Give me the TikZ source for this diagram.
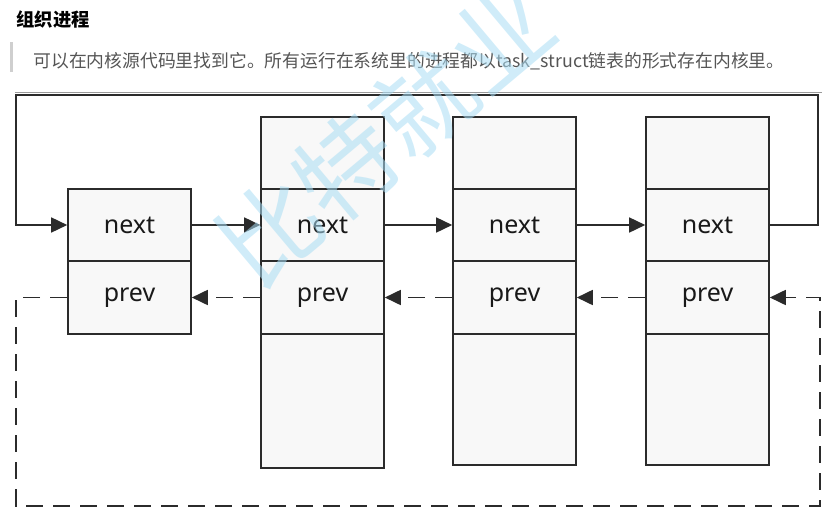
\documentclass[tikz,border=0pt]{standalone}
\usepackage{xcolor}
\usepackage{fontspec}
\usepackage{tikz}
\usetikzlibrary{arrows.meta}
\setmainfont{Noto Sans}
\newfontfamily\cjkfont{Noto Sans CJK SC}
\definecolor{PLLine}{HTML}{2B2B2B}
\definecolor{PLFill}{HTML}{F8F8F8}
\definecolor{PLQuote}{HTML}{CFCFCF}
\definecolor{PLText}{HTML}{555555}
\definecolor{PLRule}{HTML}{9A9A9A}
\definecolor{PLMark}{HTML}{A9DDF4}

\begin{document}
\begin{tikzpicture}[x=1pt,y=-1pt,
  cell/.style={draw=PLLine,fill=PLFill,line width=1.6pt,minimum width=123pt,inner sep=0pt,text=black!90,font=\fontsize{25}{28}\selectfont},
  nextlink/.style={PLLine,line width=1.6pt,-{Triangle[length=16pt,width=15pt]}},
  prevlink/.style={PLLine,line width=1.8pt,dash pattern=on 17pt off 10pt,-{Triangle[length=16pt,width=15pt]}}]
\path[use as bounding box] (0,0) rectangle (835,519);
\node[anchor=west,font=\cjkfont\bfseries\fontsize{18.3}{21}\selectfont] (title) at (13,20) {组织进程};
\fill[PLQuote] (10,42) rectangle (13,72);
\node[anchor=west,text=PLText,font=\cjkfont\fontsize{17.8}{21}\selectfont] (quote) at (30,61) {可以在内核源代码里找到它。所有运行在系统里的进程都以task\_struct链表的形式存在内核里。};
\draw[PLRule,line width=1.2pt] (15,92.5) -- (822,92.5);
\node[cell,minimum height=72pt] (n1) at (129.5,225) {next};
\node[cell,minimum height=73pt] (p1) at (129.5,297.5) {prev};
\node[cell,minimum height=72pt] (t2) at (322.5,153) {};
\node[cell,minimum height=72pt] (n2) at (322.5,225) {next};
\node[cell,minimum height=73pt] (p2) at (322.5,297.5) {prev};
\node[cell,minimum height=134pt] (b2) at (322.5,401) {};
\node[cell,minimum height=72pt] (t3) at (514.5,153) {};
\node[cell,minimum height=72pt] (n3) at (514.5,225) {next};
\node[cell,minimum height=73pt] (p3) at (514.5,297.5) {prev};
\node[cell,minimum height=131pt] (b3) at (514.5,399.5) {};
\node[cell,minimum height=72pt] (t4) at (707.5,153) {};
\node[cell,minimum height=72pt] (n4) at (707.5,225) {next};
\node[cell,minimum height=73pt] (p4) at (707.5,297.5) {prev};
\node[cell,minimum height=131pt] (b4) at (707.5,399.5) {};
\coordinate (topL) at (16,95);
\coordinate (topR) at (818,95);
\coordinate (botL) at (16,506);
\coordinate (botR) at (820,506);
\draw[nextlink] (n1.east) -- (n2.west);
\draw[nextlink] (n2.east) -- (n3.west);
\draw[nextlink] (n3.east) -- (n4.west);
\draw[nextlink] (n4.east) -| (topR) -- (topL) |- (n1.west);
\draw[prevlink] (p2.west) -- (p1.east);
\draw[prevlink] (p3.west) -- (p2.east);
\draw[prevlink] (p4.west) -- (p3.east);
\draw[prevlink] (p1.west) -| (botL) -- (botR) |- (p4.east);
\node[text=PLMark,opacity=0.55,rotate=40,font=\cjkfont\fontsize{100}{100}\selectfont] (mark) at (385,135) {比特就业};
\end{tikzpicture}
\end{document}
